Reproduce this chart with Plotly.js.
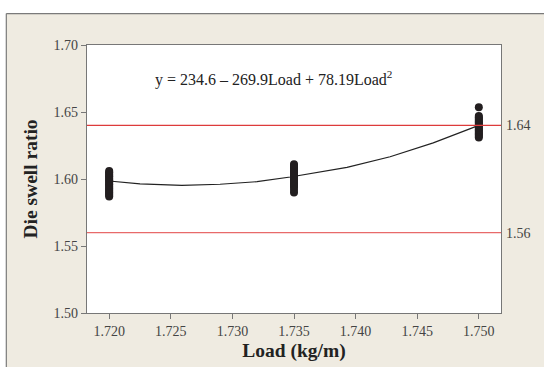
<!DOCTYPE html>
<html>
<head>
<meta charset="utf-8">
<script src="https://cdn.plot.ly/plotly-3.0.1.min.js"></script>
<style>html,body{margin:0;padding:0;background:#fff;}#chart{width:544px;height:367px;}</style>
</head>
<body>
<div id="chart"></div>
<script>
// ---- data ----
const xTickVals = [1.720, 1.725, 1.730, 1.735, 1.740, 1.745, 1.750];
const xTickText = ["1.720", "1.725", "1.730", "1.735", "1.740", "1.745", "1.750"];
const yTickVals = [1.50, 1.55, 1.60, 1.65, 1.70];
const yTickText = ["1.50", "1.55", "1.60", "1.65", "1.70"];
const limitVals = [1.56, 1.64];
const limitText = ["1.56", "1.64"];

const load1720 = [1.587, 1.588, 1.589, 1.590, 1.591, 1.592, 1.593, 1.594, 1.595, 1.596, 1.597, 1.598, 1.599, 1.600, 1.601, 1.602, 1.603, 1.604, 1.605, 1.606];
const load1735 = [1.590, 1.592, 1.594, 1.595, 1.596, 1.597, 1.598, 1.599, 1.600, 1.601, 1.602, 1.603, 1.604, 1.605, 1.606, 1.607, 1.608, 1.609, 1.610, 1.611];
const load1750 = [1.631, 1.632, 1.633, 1.634, 1.635, 1.636, 1.637, 1.638, 1.639, 1.640, 1.641, 1.642, 1.643, 1.644, 1.645, 1.646, 1.647, 1.6535];

const fitX = [1.7200, 1.7225, 1.7259, 1.7290, 1.7320, 1.7347, 1.7393, 1.7428, 1.7463, 1.7500];
const fitY = [1.5985, 1.5964, 1.5952, 1.5961, 1.5980, 1.6015, 1.6087, 1.6166, 1.6270, 1.6400];

const equationText = "y = 234.6 – 269.9Load + 78.19Load<sup>2</sup>";
const xTitle = "Load (kg/m)";
const yTitle = "Die swell ratio";

// ---- build traces ----
const ptsX = [].concat(load1720.map(() => 1.720), load1735.map(() => 1.735), load1750.map(() => 1.750));
const ptsY = [].concat(load1720, load1735, load1750);

const serif = "Liberation Serif, Times New Roman, serif";

const traces = [
  {x: fitX, y: fitY, type: "scatter", mode: "lines",
   line: {color: "#222", width: 1.2}, hoverinfo: "skip", showlegend: false},
  {x: ptsX, y: ptsY, type: "scatter", mode: "markers",
   marker: {color: "#231f20", size: 8}, showlegend: false},
  {x: [1.735], y: [1.6], yaxis: "y2", type: "scatter", mode: "markers",
   marker: {opacity: 0}, showlegend: false}
];

const shapes = [
  // red reference lines
  {type: "line", xref: "paper", x0: 0, x1: 1, yref: "y", y0: limitVals[1], y1: limitVals[1],
   line: {color: "#dd3b3b", width: 1.3}},
  {type: "line", xref: "paper", x0: 0, x1: 1, yref: "y", y0: limitVals[0], y1: limitVals[0],
   line: {color: "#e86a6a", width: 1.3}},
  // white margins outside the beige frame
  {type: "rect", xref: "paper", yref: "paper", x0: -0.3, x1: -0.1949, y0: -0.5, y1: 1.3,
   fillcolor: "#ffffff", line: {width: 0}, layer: "above"},
  {type: "rect", xref: "paper", yref: "paper", x0: -0.3, x1: 1.3, y0: 1.1173, y1: 1.3,
   fillcolor: "#ffffff", line: {width: 0}, layer: "above"},
  // frame border
  {type: "line", xref: "paper", yref: "paper", x0: -0.1949, x1: 1.3, y0: 1.1173, y1: 1.1173,
   line: {color: "#7a7a7a", width: 1.2}, layer: "above"},
  {type: "line", xref: "paper", yref: "paper", x0: -0.1949, x1: -0.1949, y0: -0.5, y1: 1.1173,
   line: {color: "#7a7a7a", width: 1.2}, layer: "above"}
];

const layout = {
  width: 544, height: 367,
  margin: {l: 86.7, r: 43.3, t: 44.5, b: 54, pad: 0},
  paper_bgcolor: "#efebe1",
  plot_bgcolor: "#ffffff",
  showlegend: false,
  font: {family: serif, color: "#333"},
  xaxis: {
    range: [1.7182, 1.7518], tickvals: xTickVals, ticktext: xTickText,
    ticks: "outside", ticklen: 5, tickcolor: "#777", tickwidth: 1,
    showline: true, linecolor: "#777", linewidth: 1.3, mirror: true,
    showgrid: false, zeroline: false,
    tickfont: {family: serif, size: 14, color: "#444"},
    title: {text: xTitle, font: {family: serif, size: 19.5, color: "#222", weight: "bold"}, standoff: 5}
  },
  yaxis: {
    range: [1.5, 1.7], tickvals: yTickVals, ticktext: yTickText,
    ticks: "outside", ticklen: 5, tickcolor: "#777", tickwidth: 1,
    showline: true, linecolor: "#777", linewidth: 1.3, mirror: true,
    showgrid: false, zeroline: false,
    tickfont: {family: serif, size: 14, color: "#444"},
    title: {text: yTitle, font: {family: serif, size: 19.5, color: "#222", weight: "bold"}, standoff: 10}
  },
  yaxis2: {
    overlaying: "y", side: "right", range: [1.5, 1.7],
    tickvals: limitVals, ticktext: limitText, ticks: "", ticklabelstandoff: 4,
    showline: false, showgrid: false, zeroline: false,
    tickfont: {family: serif, size: 14, color: "#444"}
  },
  shapes: shapes,
  annotations: [
    {x: 1.7333, y: 1.6752, xref: "x", yref: "y", text: equationText, showarrow: false,
     xanchor: "center", yanchor: "middle",
     font: {family: serif, size: 16, color: "#222"}}
  ]
};

Plotly.newPlot("chart", traces, layout, {displayModeBar: false, staticPlot: true});
</script>
</body>
</html>
